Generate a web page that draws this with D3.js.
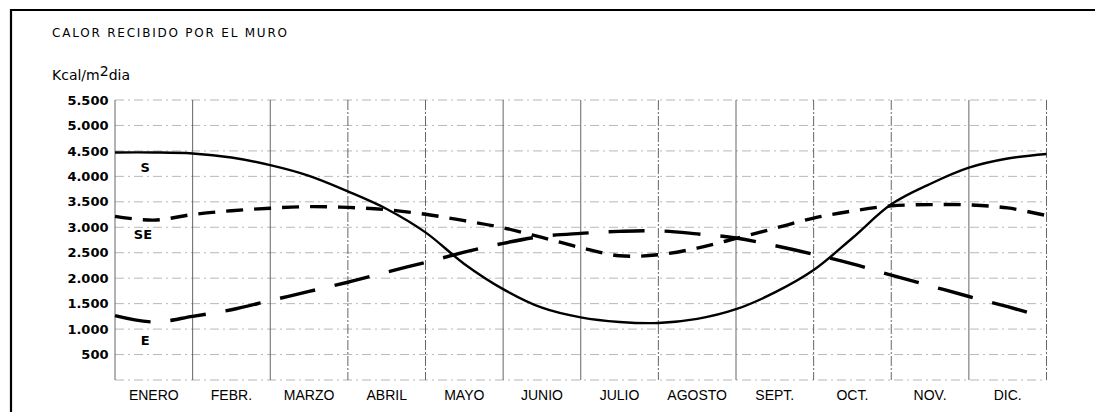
<!DOCTYPE html>
<html>
<head>
<meta charset="utf-8">
<script src="https://cdn.jsdelivr.net/npm/d3@7"></script>
<style>
  html, body { margin: 0; padding: 0; background: #fff; }
  svg { display: block; }
</style>
</head>
<body>
<div id="chart"></div>
<script>
// ---- data ----
const months = ["ENERO", "FEBR.", "MARZO", "ABRIL", "MAYO", "JUNIO", "JULIO", "AGOSTO", "SEPT.", "OCT.", "NOV.", "DIC."];
// positions in month units (0 = start of ENERO, 12 = end of DIC.), half-month steps
const monthPos = [0, 0.5, 1, 1.5, 2, 2.5, 3, 3.5, 4, 4.5, 5, 5.5, 6, 6.5, 7, 7.5, 8, 8.5, 9, 9.5, 10, 10.5, 11, 11.5, 12];
const valuesS  = [4470, 4470, 4450, 4370, 4220, 4010, 3705, 3360, 2900, 2280, 1785, 1420, 1230, 1140, 1120, 1200, 1390, 1720, 2160, 2790, 3450, 3850, 4170, 4350, 4440];
const valuesSE = [3215, 3140, 3250, 3325, 3375, 3405, 3390, 3345, 3255, 3130, 2990, 2800, 2600, 2440, 2460, 2590, 2780, 2980, 3180, 3320, 3420, 3445, 3440, 3380, 3230];
const valuesE  = [1265, 1140, 1250, 1380, 1560, 1740, 1920, 2120, 2310, 2510, 2685, 2820, 2880, 2920, 2930, 2870, 2790, 2640, 2470, 2280, 2060, 1850, 1640, 1440, 1220];
const yTicks = [500, 1000, 1500, 2000, 2500, 3000, 3500, 4000, 4500, 5000, 5500];
const yTickLabels = ["500", "1.000", "1.500", "2.000", "2.500", "3.000", "3.500", "4.000", "4.500", "5.000", "5.500"];
const seriesNames = ["S", "SE", "E"];
const labelMonth = [0.39, 0.36, 0.39];
const labelValue = [4180, 2860, 780];
const titleText = "CALOR RECIBIDO POR EL MURO";

// ---- layout ----
const W = 1095, H = 412;
const svg = d3.select("#chart").append("svg").attr("width", W).attr("height", H);

const x = d3.scaleLinear().domain([0, 12]).range([115, 1046.5]);
const y = d3.scaleLinear().domain([0, 5500]).range([380, 100]);

// outer frame
svg.append("path")
  .attr("d", `M11,${H + 5} L11,10 L${W + 5},10`)
  .attr("fill", "none").attr("stroke", "#000").attr("stroke-width", 2.2);

// title
svg.append("text")
  .attr("x", 52).attr("y", 37)
  .attr("font-family", "DejaVu Sans, sans-serif")
  .attr("font-size", 12)
  .attr("textLength", 235).attr("lengthAdjust", "spacing")
  .text(titleText);

// unit label
const unit = svg.append("text")
  .attr("x", 52).attr("y", 80)
  .attr("font-family", "DejaVu Sans, sans-serif")
  .attr("font-size", 14);
unit.append("tspan").text("Kcal/m");
unit.append("tspan").attr("dy", -4).attr("font-size", 14).text("2");
unit.append("tspan").attr("dy", 4).text("dia");

// horizontal grid
const g = svg.append("g");
g.selectAll("line.h").data([0].concat(yTicks)).enter().append("line")
  .attr("x1", x(0)).attr("x2", x(12))
  .attr("y1", d => y(d)).attr("y2", d => y(d))
  .attr("stroke", "#999").attr("stroke-width", 0.7)
  .attr("stroke-dasharray", "9,4,2,4");

// vertical month lines
g.selectAll("line.v").data(d3.range(0, 13)).enter().append("line")
  .attr("x1", d => x(d)).attr("x2", d => x(d))
  .attr("y1", y(5500)).attr("y2", y(0))
  .attr("stroke", "#555").attr("stroke-width", 0.9)
  .attr("stroke-dasharray", d => [3, 4, 7, 9, 10, 12].includes(d) ? "10,2,2,2" : null);

// y tick labels
svg.selectAll("text.yt").data(yTicks).enter().append("text")
  .attr("x", 108.5).attr("y", d => y(d))
  .attr("dy", "0.36em")
  .attr("text-anchor", "end")
  .attr("font-family", "DejaVu Sans, sans-serif")
  .attr("font-weight", "bold")
  .attr("font-size", 13)
  .text((d, i) => yTickLabels[i]);

// month labels
svg.selectAll("text.m").data(months).enter().append("text")
  .attr("x", (d, i) => x(i + 0.5)).attr("y", 400)
  .attr("text-anchor", "middle")
  .attr("font-family", "Liberation Sans, Arial, sans-serif")
  .attr("font-size", 14)
  .text(d => d);

// series lines
const line = d3.line()
  .x(d => x(d[0])).y(d => y(d[1]))
  .curve(d3.curveCatmullRom.alpha(0.5));

const series = [
  { vals: valuesS,  width: 2.4, dash: null },
  { vals: valuesSE, width: 3.4, dash: "17,11" },
  { vals: valuesE,  width: 3.4, dash: "36,20" }
];
series.forEach(s => {
  svg.append("path")
    .datum(monthPos.map((m, i) => [m, s.vals[i]]))
    .attr("d", line)
    .attr("fill", "none")
    .attr("stroke", "#000")
    .attr("stroke-width", s.width)
    .attr("stroke-dasharray", s.dash);
});

// series labels
svg.selectAll("text.sl").data(seriesNames).enter().append("text")
  .attr("x", (d, i) => x(labelMonth[i])).attr("y", (d, i) => y(labelValue[i]))
  .attr("dy", "0.36em")
  .attr("text-anchor", "middle")
  .attr("font-family", "DejaVu Sans, sans-serif")
  .attr("font-weight", "bold")
  .attr("font-size", 13)
  .text(d => d);
</script>
</body>
</html>
